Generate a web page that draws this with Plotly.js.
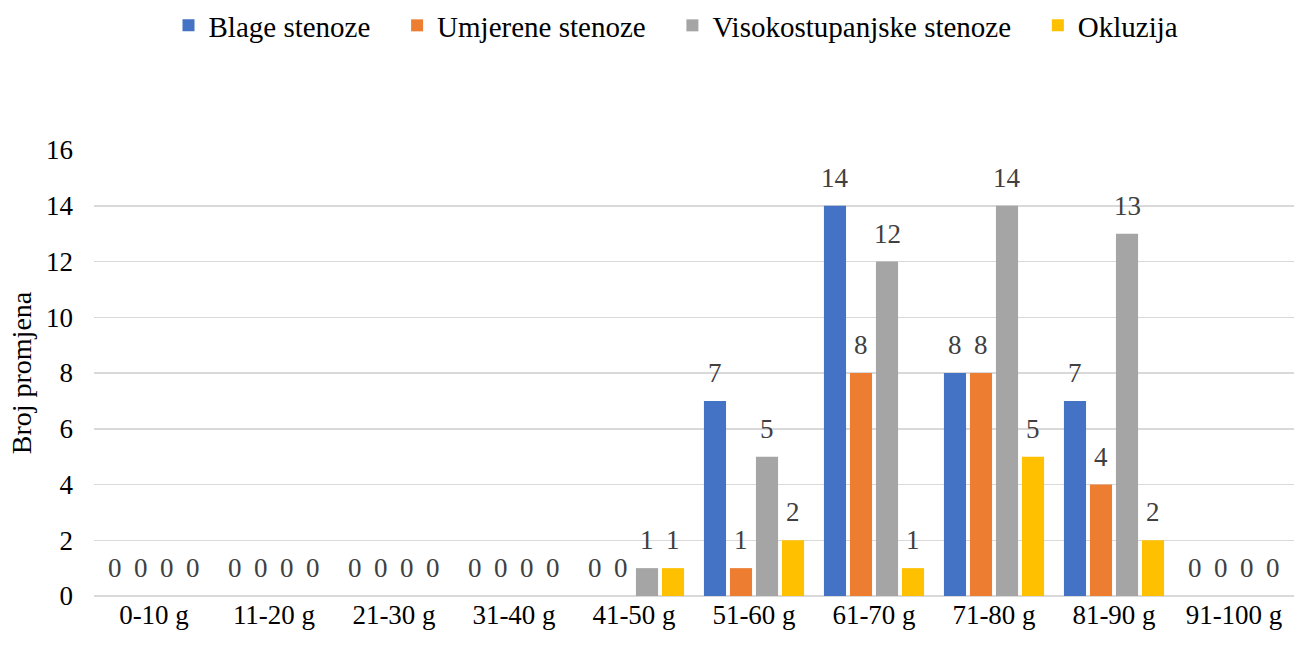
<!DOCTYPE html>
<html><head><meta charset="utf-8">
<script src="https://cdn.plot.ly/plotly-3.0.1.min.js"></script>
<style>body{margin:0;background:#fff}#chart{width:1294px;height:645px}</style>
</head><body><div id="chart"></div>
<script>
const categories = ["0-10 g","11-20 g","21-30 g","31-40 g","41-50 g","51-60 g","61-70 g","71-80 g","81-90 g","91-100 g"];
const seriesNames = ["Blage stenoze","Umjerene stenoze","Visokostupanjske stenoze","Okluzija"];
const blage = [0,0,0,0,0,7,14,8,7,0];
const umjerene = [0,0,0,0,0,1,8,8,4,0];
const visoko = [0,0,0,0,1,5,12,14,13,0];
const okluzija = [0,0,0,0,1,2,1,5,2,0];
const colors = ["#4472C4","#ED7D31","#A5A5A5","#FFC000"];
const values = [blage, umjerene, visoko, okluzija];
const FF = 'Liberation Serif, Times New Roman, serif';
const BARGAP = 0.133, NS = values.length;
const NBSP = '\u00a0';
const traces = values.map((v,i)=>({
  type:'bar', name:seriesNames[i] + (i < NS-1 ? NBSP.repeat(3) : ''), x:categories, y:v,
  marker:{color:colors[i], line:{width:0}},
  hoverinfo:'x+y'
}));
// data labels placed through the axes: category index + group slot offset
const slot = (1 - BARGAP) / NS;
const annotations = [];
values.forEach((v,i)=>{
  v.forEach((val,k)=>{
    annotations.push({xref:'x', yref:'y', x:k + (i - (NS-1)/2)*slot, y:val,
      text:String(val), showarrow:false, yanchor:'bottom', xanchor:'center', yshift:11,
      font:{family:FF, size:27, color:'#404040'}});
  });
});
const layout = {
  width:1294, height:645,
  margin:{l:94, r:0, t:141, b:49},
  paper_bgcolor:'#fff', plot_bgcolor:'#fff',
  barmode:'group', bargap:BARGAP, bargroupgap:0.15,
  font:{family:FF, size:27, color:'#000'},
  showlegend:true,
  legend:{orientation:'h', x:0.485, xanchor:'center', y:1.28, yanchor:'middle',
    font:{family:FF, size:29, color:'#000'}, tracegroupgap:0},
  annotations: annotations,
  xaxis:{type:'category', showgrid:false, zeroline:false, showline:false, ticks:'',
    automargin:false, range:[-0.5, categories.length-0.5],
    tickfont:{family:FF, size:27, color:'#000'}},
  yaxis:{range:[0,16], dtick:2, tick0:0, showgrid:true, gridcolor:'#d9d9d9', gridwidth:1.5,
    zeroline:true, zerolinecolor:'#d9d9d9', zerolinewidth:1.5, showline:false, ticks:'',
    automargin:false, ticklabelstandoff:20,
    tickfont:{family:FF, size:27, color:'#000'},
    title:{text:'Broj promjena', standoff:6, font:{family:FF, size:28, color:'#000'}}}
};
Plotly.newPlot('chart', traces, layout, {displayModeBar:false, staticPlot:true});
</script></body></html>
